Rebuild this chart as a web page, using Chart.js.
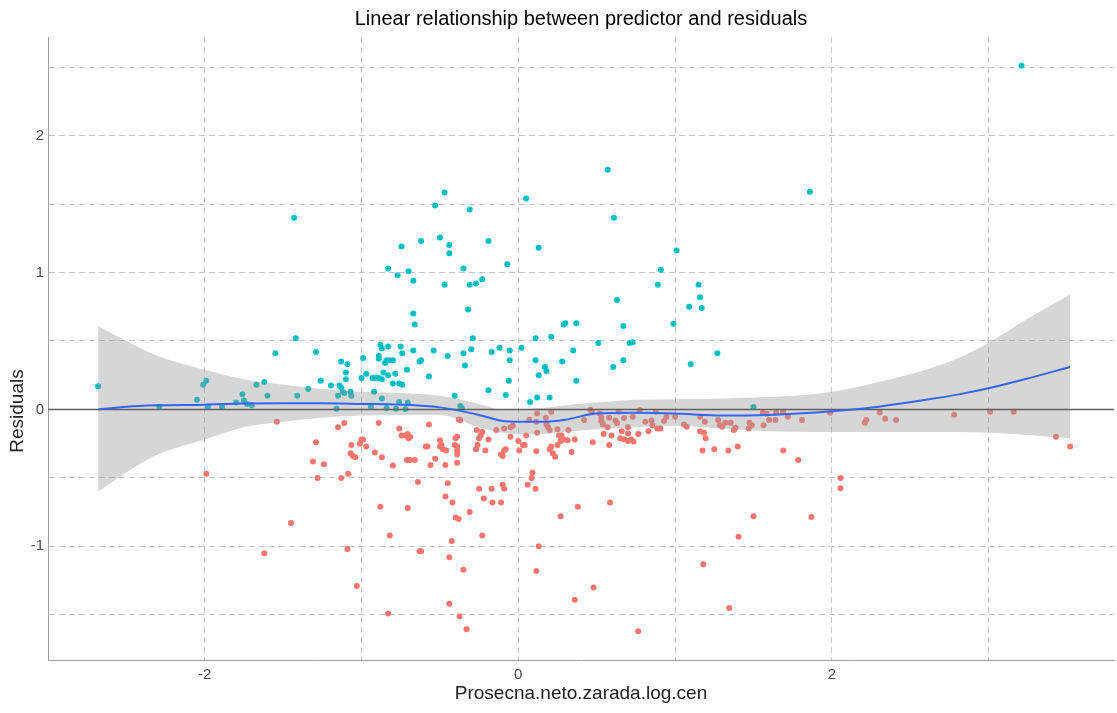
<!DOCTYPE html>
<html>
<head>
<meta charset="utf-8">
<script src="https://cdn.jsdelivr.net/npm/chart.js@4.4.1/dist/chart.umd.min.js"></script>
<style>
  html, body { margin: 0; padding: 0; background: #fff; }
  #wrap { width: 1117px; height: 713px; position: relative; }
</style>
</head>
<body>
<div id="wrap"><canvas id="residChart"></canvas></div>
<script>
// residuals against the centred predictor
var predictor = [
  -1.43,-1.42,-1.55,-1.29,-2.68,-2.29,-2.05,-2.01,-1.99,-1.98,-1.89,-1.80,-1.76,-1.75,-1.73,-1.70,-1.67,-1.62,-1.60,-1.41,-1.34,-1.26,
  -0.47,-0.53,-0.31,0.05,-0.62,-0.50,-0.44,-0.44,-0.745,-0.19,0.13,-0.83,-0.70,-0.77,-0.67,-0.35,-0.47,-0.31,-0.27,-0.23,-0.07,
  -0.67,-0.66,-0.32,-0.29,0.11,0.21,0.29,0.30,0.37,0.51,-0.88,-0.87,-0.83,-0.75,-0.74,-0.67,-0.54,-0.45,-0.35,-0.30,
  -0.17,-0.12,-0.055,0.02,-0.99,-0.89,-0.89,-0.84,-0.82,-0.80,-0.85,-0.63,-0.62,-0.055,0.11,0.28,0.35,-1.13,-1.09,-0.71,-0.34,0.17,
  -1.195,-1.14,-1.13,-1.12,-1.11,-1.10,-1.10,-1.15,-1.16,-1.07,-1.065,-1.00,-0.97,-0.93,-0.91,-0.89,-0.87,-0.86,-0.83,-0.785,-0.92,-0.80,
  -0.76,-0.74,-0.57,-0.87,-0.94,-0.84,-0.78,-0.76,-0.72,-0.705,-0.405,-0.37,-0.36,-0.19,-0.06,-0.08,0.075,0.12,0.20,0.13,0.18,0.37,
  0.57,0.61,1.86,1.01,0.91,0.89,1.15,1.16,1.17,1.09,0.63,0.99,0.67,0.71,0.73,1.27,0.67,0.605,1.10,1.50,3.21,
  -1.54,-1.29,-1.31,-1.24,-1.28,-1.99,-1.45,-1.62,
  0.12,0.21,0.07,0.115,0.175,0.18,0.19,0.20,0.12,-0.38,-0.37,-0.09,-0.035,-0.05,-0.14,-0.265,-0.23,-0.25,-0.24,-0.19,
  -0.05,0.0,0.05,0.03,0.006,0.04,-0.09,-0.08,-0.10,-0.11,-0.27,-0.26,-0.21,0.115,0.09,0.06,0.11,0.085,-0.10,-0.09,
  -0.25,-0.22,-0.17,-0.39,-0.40,-0.405,-0.39,-0.39,-0.39,-0.39,-0.50,-0.49,-0.50,-0.48,-0.46,-0.57,-0.58,-0.59,-0.53,-0.56,
  -0.465,-0.45,-0.465,-0.64,-0.76,-0.745,-0.72,-0.70,-0.705,-0.69,-0.71,-0.69,-0.66,-0.80,-0.89,-0.915,-0.87,-1.0,-0.99,-0.97,
  -1.01,-1.065,-1.07,-1.04,-1.055,-1.15,-1.11,-1.13,-1.085,
  0.25,0.26,0.276,0.27,0.29,0.315,0.32,0.36,0.21,0.20,0.22,0.235,0.25,0.34,0.42,0.46,0.47,
  -0.42,-0.88,-0.705,-0.165,-0.11,-0.31,-0.40,-0.38,-0.82,-0.23,-0.425,-1.09,-0.63,-0.62,-0.44,-0.35,-1.03,-0.44,-0.83,-0.375,-0.33,0.27,0.38,0.13,0.115,0.48,0.36,
  0.52,0.53,0.53,0.54,0.57,0.58,0.62,0.63,0.64,0.675,0.73,0.775,0.81,0.85,0.855,0.877,0.887,0.905,0.93,0.945,1.0,1.057,
  1.075,1.16,1.19,1.275,1.285,1.30,1.32,1.355,1.385,1.375,1.475,1.49,1.47,1.565,1.56,1.585,1.60,1.64,1.645,1.69,1.72,1.81,1.99,
  0.475,0.545,0.58,0.595,0.66,0.65,0.675,0.70,0.70,0.70,0.72,0.735,0.765,0.83,1.16,1.185,1.195,1.175,1.25,1.34,1.40,1.69,1.785,2.055,2.055,
  0.585,1.50,1.87,1.405,1.18,1.345,0.765,2.21,2.22,2.305,2.34,2.41,2.78,3.01,3.16,3.43,3.52
];
var residual = [
  1.40,0.52,0.41,0.42,0.17,0.02,0.07,0.18,0.21,0.02,0.02,0.05,0.11,0.065,0.04,0.03,0.18,0.20,0.10,0.10,0.15,0.21,
  1.585,1.49,1.46,1.54,1.23,1.255,1.20,1.14,1.19,1.23,1.18,1.03,1.01,0.98,0.94,1.03,0.91,0.91,0.92,0.95,1.06,
  0.70,0.62,0.73,0.52,0.52,0.53,0.62,0.63,0.63,0.485,0.47,0.445,0.46,0.46,0.41,0.43,0.43,0.39,0.41,0.44,
  0.42,0.45,0.43,0.45,0.375,0.39,0.37,0.36,0.36,0.36,0.34,0.35,0.36,0.36,0.36,0.35,0.43,0.35,0.33,0.29,0.32,0.31,
  0.175,0.175,0.16,0.13,0.12,0.27,0.22,0.10,0.005,0.13,0.10,0.23,0.26,0.23,0.23,0.23,0.22,0.27,0.25,0.26,0.13,0.19,
  0.19,0.18,0.24,0.08,0.02,0.01,0.005,0.055,0.003,0.05,0.10,0.025,0.01,0.14,0.21,0.105,0.055,0.087,0.087,0.25,0.28,0.21,
  1.75,1.40,1.59,1.16,1.02,0.91,0.91,0.82,0.74,0.75,0.80,0.625,0.61,0.485,0.49,0.41,0.36,0.31,0.33,0.017,2.51,
  -0.09,-0.24,-0.38,-0.40,-0.50,-0.47,-0.83,-1.05,
  -0.03,-0.017,-0.075,-0.09,-0.06,-0.11,-0.13,-0.15,-0.17,-0.073,-0.078,-0.14,-0.12,-0.13,-0.15,-0.15,-0.165,-0.21,-0.19,-0.22,
  -0.20,-0.23,-0.19,-0.26,-0.30,-0.26,-0.30,-0.29,-0.34,-0.33,-0.29,-0.26,-0.30,-0.305,-0.46,-0.55,-0.58,-0.50,-0.55,-0.58,
  -0.58,-0.65,-0.58,-0.20,-0.21,-0.26,-0.27,-0.30,-0.33,-0.39,-0.225,-0.26,-0.27,-0.29,-0.30,-0.11,-0.27,-0.27,-0.36,-0.405,
  -0.405,-0.54,-0.635,-0.53,-0.14,-0.19,-0.19,-0.21,-0.18,-0.20,-0.37,-0.37,-0.37,-0.41,-0.10,-0.315,-0.35,-0.22,-0.22,-0.27,
  -0.25,-0.26,-0.32,-0.35,-0.34,-0.13,-0.10,-0.50,-0.47,
  -0.145,-0.19,-0.19,-0.23,-0.22,-0.225,-0.15,-0.22,-0.27,-0.29,-0.32,-0.345,-0.26,-0.31,-0.078,-0.003,-0.02,
  -0.68,-0.71,-0.72,-0.68,-0.68,-0.75,-0.79,-0.80,-0.92,-0.92,-0.96,-1.02,-1.035,-1.035,-1.08,-1.17,-1.29,-1.42,-1.49,-1.51,-1.605,-0.78,-0.71,-1.0,-1.18,-1.30,-1.39,
  -0.03,-0.06,-0.085,-0.11,-0.13,-0.06,-0.08,-0.10,-0.017,-0.063,-0.053,-0.005,-0.09,-0.08,-0.115,-0.017,-0.14,-0.14,-0.085,-0.056,-0.053,-0.11,
  -0.126,-0.053,-0.09,-0.078,-0.114,-0.126,-0.097,-0.097,-0.133,-0.15,-0.097,-0.116,-0.14,-0.116,-0.024,-0.031,-0.078,-0.078,-0.02,-0.017,-0.053,-0.078,-0.024,
  -0.24,-0.18,-0.26,-0.19,-0.16,-0.21,-0.22,-0.13,-0.175,-0.23,-0.22,-0.235,-0.18,-0.16,-0.16,-0.17,-0.21,-0.30,-0.29,-0.30,-0.27,-0.30,-0.37,-0.50,-0.575,
  -0.68,-0.78,-0.785,-0.93,-1.13,-1.45,-1.62,-0.097,-0.078,-0.022,-0.068,-0.078,-0.039,-0.017,-0.017,-0.20,-0.27
];

// loess smoother and its confidence band
var smoothX = [-2.68,-2.5,-2.3,-2.0,-1.75,-1.5,-1.25,-1.0,-0.75,-0.5,-0.25,-0.1,0.0,0.15,0.3,0.5,0.75,1.0,1.3,1.6,1.9,2.1,2.3,2.6,2.81,3.02,3.23,3.52];
var smoothY = [0.0,0.02,0.03,0.035,0.044,0.045,0.045,0.04,0.035,0.015,-0.04,-0.085,-0.09,-0.09,-0.075,-0.03,-0.025,-0.03,-0.045,-0.04,-0.022,-0.005,0.02,0.07,0.11,0.16,0.22,0.31];
var bandLo  = [-0.60,-0.46,-0.33,-0.22,-0.13,-0.09,-0.06,-0.045,-0.04,-0.04,-0.13,-0.17,-0.18,-0.18,-0.165,-0.145,-0.13,-0.12,-0.14,-0.16,-0.165,-0.165,-0.165,-0.165,-0.165,-0.17,-0.185,-0.21];
var bandHi  = [0.61,0.50,0.39,0.29,0.22,0.18,0.15,0.13,0.12,0.10,0.04,0.0,0.0,0.01,0.03,0.05,0.07,0.075,0.08,0.09,0.115,0.15,0.2,0.29,0.375,0.50,0.65,0.84];

// axes
var xLimits = [-3.0, 3.80];
var yLimits = [-1.83, 2.72];
var xGrid = [-2, -1, 0, 1, 2, 3];
var xLabels = [-2, 0, 2];
var yGrid = [-1.5, -1, -0.5, 0, 0.5, 1, 1.5, 2, 2.5];
var yLabels = [-1, 0, 1, 2];

var titleText = "Linear relationship between predictor and residuals";
var xTitle = "Prosecna.neto.zarada.log.cen";
var yTitle = "Residuals";

var FONT = "'Liberation Sans', Arial, sans-serif";
var TEAL = "#00BFC4";
var SALMON = "#F8766D";

function pairs(xs, ys) {
  return xs.map(function (x, i) { return {x: x, y: ys[i]}; });
}

// title over the panel, y axis title, and the y = 0 reference line
var extras = {
  id: "extras",
  beforeDatasetDraw: function (chart, args) {
    if (args.index !== 3) return;
    var ctx = chart.ctx, a = chart.chartArea;
    var y0 = chart.scales.y.getPixelForValue(0);
    ctx.save();
    ctx.strokeStyle = "#606060";
    ctx.lineWidth = 1.5;
    ctx.beginPath();
    ctx.moveTo(a.left, y0);
    ctx.lineTo(a.right, y0);
    ctx.stroke();
    ctx.restore();
  },
  afterDraw: function (chart) {
    var ctx = chart.ctx, a = chart.chartArea;
    ctx.save();
    ctx.fillStyle = "#000";
    ctx.textAlign = "center";
    ctx.textBaseline = "middle";
    ctx.font = "20px " + FONT;
    ctx.fillText(titleText, (a.left + a.right) / 2, 19);
    ctx.translate(18, 411);
    ctx.rotate(-Math.PI / 2);
    ctx.font = "19px " + FONT;
    ctx.fillStyle = "#222";
    ctx.fillText(yTitle, 0, 0);
    ctx.restore();
  }
};

new Chart("residChart", {
  type: "scatter",
  data: {
    datasets: [{
      data: pairs(predictor, residual),
      pointRadius: 3,
      pointHoverRadius: 3,
      pointBorderWidth: 0,
      pointBackgroundColor: function (c) { return c.raw && c.raw.y > 0 ? TEAL : SALMON; },
      order: 4
    }, {
      type: "line",
      data: pairs(smoothX, bandLo),
      borderWidth: 0,
      pointRadius: 0,
      fill: false,
      cubicInterpolationMode: "monotone",
      order: 3
    }, {
      type: "line",
      data: pairs(smoothX, bandHi),
      borderWidth: 0,
      pointRadius: 0,
      backgroundColor: "rgba(153,153,153,0.4)",
      fill: "-1",
      cubicInterpolationMode: "monotone",
      order: 2
    }, {
      type: "line",
      data: pairs(smoothX, smoothY),
      borderColor: "#3366FF",
      borderWidth: 2,
      pointRadius: 0,
      fill: false,
      cubicInterpolationMode: "monotone",
      order: 1
    }]
  },
  options: {
    responsive: true,
    maintainAspectRatio: false,
    animation: false,
    devicePixelRatio: 1,
    layout: {padding: {top: 37, right: 0, left: 0, bottom: 0}},
    plugins: {
      legend: {display: false},
      tooltip: {enabled: false},
      title: {display: false}
    },
    scales: {
      x: {
        type: "linear",
        min: xLimits[0],
        max: xLimits[1],
        afterBuildTicks: function (s) { s.ticks = xGrid.map(function (v) { return {value: v}; }); },
        afterFit: function (s) { s.height = 53; },
        ticks: {
          callback: function (v) { return xLabels.indexOf(v) >= 0 ? String(v) : ""; },
          color: "#4D4D4D",
          font: {family: FONT, size: 15},
          padding: 6,
          maxRotation: 0,
          autoSkip: false
        },
        grid: {color: "#C4C4C4", lineWidth: 1, drawTicks: false},
        border: {display: true, color: "#9E9E9E", width: 1, dash: [6, 4]},
        title: {display: true, text: xTitle, color: "#222", font: {family: FONT, size: 19}, padding: {top: 0, bottom: 8}}
      },
      y: {
        type: "linear",
        min: yLimits[0],
        max: yLimits[1],
        afterBuildTicks: function (s) { s.ticks = yGrid.map(function (v) { return {value: v}; }); },
        afterFit: function (s) { s.width = 48; },
        ticks: {
          callback: function (v) { return yLabels.indexOf(v) >= 0 ? String(v) : ""; },
          color: "#4D4D4D",
          font: {family: FONT, size: 15},
          padding: 4,
          autoSkip: false
        },
        grid: {color: "#C4C4C4", lineWidth: 1, drawTicks: false},
        border: {display: true, color: "#9E9E9E", width: 1, dash: [6, 4]}
      }
    }
  },
  plugins: [extras]
});
</script>
</body>
</html>
